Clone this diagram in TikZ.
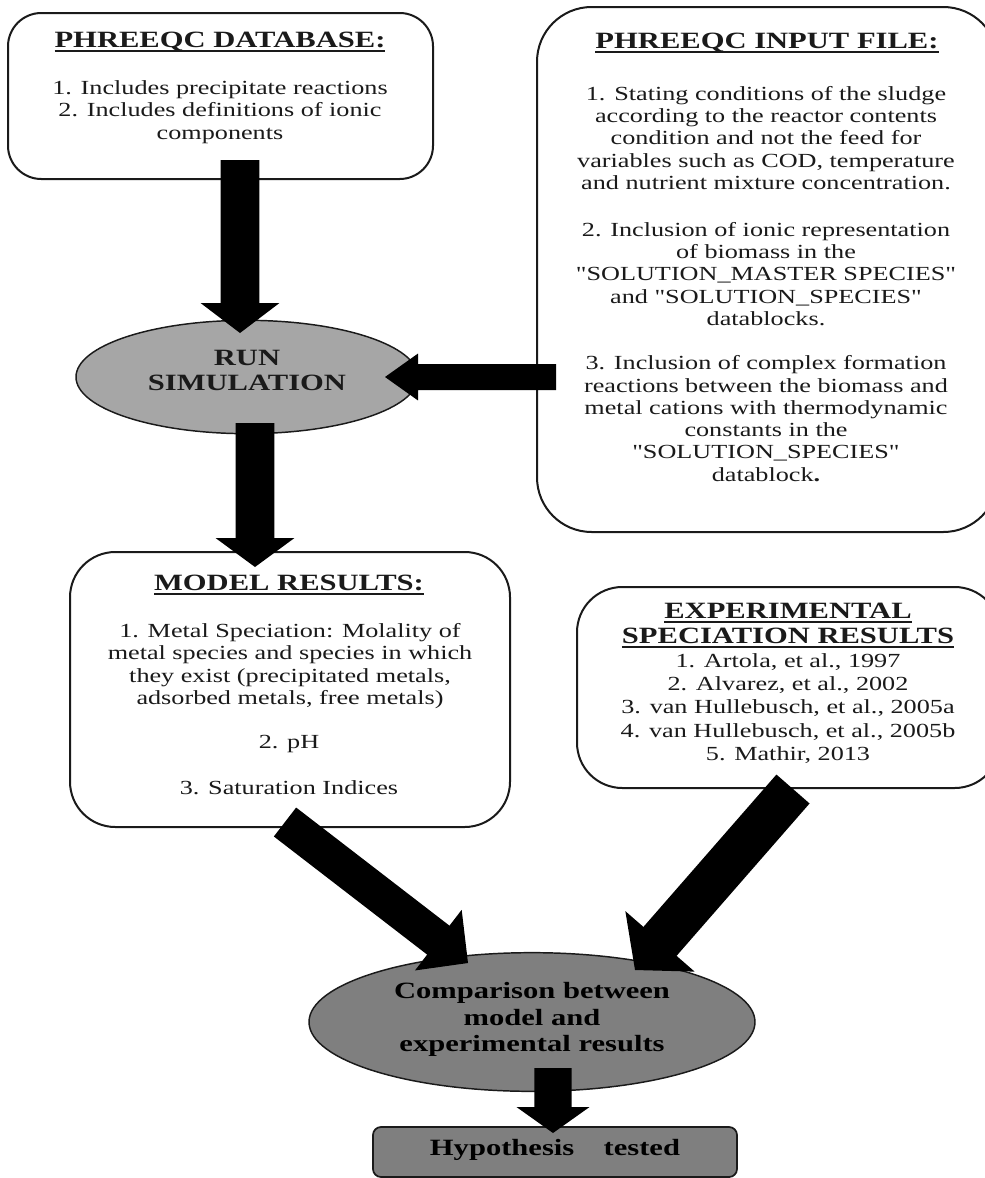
\documentclass[tikz,border=0pt]{standalone}
\usepackage{fontspec}
\setmainfont{Liberation Serif}[FakeStretch=1.31, Ligatures=TeXOff]
\usetikzlibrary{calc,shapes.geometric}
\definecolor{ink}{HTML}{1A1A1A}
\definecolor{lgray}{HTML}{A6A6A6}
\definecolor{dgray}{HTML}{7F7F7F}
\newcommand{\bodyf}{\fontsize{15pt}{16.7pt}\selectfont}
\newcommand{\headf}{\bfseries\fontsize{17.5pt}{18.75pt}\selectfont}
\newcommand{\ulh}[1]{\setbox0\hbox{#1}\rlap{\rule[-3pt]{\wd0}{1.2pt}}\box0}
\newcommand{\qq}{\symbol{34}}
\newcommand{\blockarr}[5]{%
  \coordinate (ba-base) at ($(#2)!#5!(#1)$);
  \fill[black] ($(#1)!#3!90:(#2)$) -- ($(ba-base)!#3!90:(#2)$) -- ($(ba-base)!#4!90:(#2)$) -- (#2) -- ($(ba-base)!#4!-90:(#2)$) -- ($(ba-base)!#3!-90:(#2)$) -- ($(#1)!#3!-90:(#2)$) -- cycle;}
\tikzset{
  box/.style={draw=ink, line width=1.5pt, fill=white, rectangle, inner sep=0pt},
  oval/.style={draw=ink, line width=1.1pt, ellipse, inner sep=0pt},
  head/.style={font=\headf, text=ink, inner sep=0pt, align=center},
  body/.style={font=\bodyf, text=ink, inner sep=0pt, align=center},
}
\begin{document}
\begin{tikzpicture}[x=0.75pt, y=-0.75pt]
\useasboundingbox (0,0) rectangle (985,1178);
\fill[white] (0,0) rectangle (985,1178);

% boxes
\node[box, rounded corners=25pt, minimum width=318.75pt, minimum height=124.5pt] (db) at (220.5,96) {};
\node[box, rounded corners=41pt, minimum width=345.75pt, minimum height=393.75pt] (inp) at (767.5,269.5) {};
\node[box, rounded corners=34pt, minimum width=330pt, minimum height=206.25pt] (mod) at (290,689.5) {};
\node[box, rounded corners=34pt, minimum width=317.25pt, minimum height=150.75pt] (exp) at (788.5,687.5) {};
\node[oval, fill=lgray, minimum width=256.5pt, minimum height=85pt] (run) at (247,377) {};
\node[oval, fill=dgray, minimum width=334.5pt, minimum height=104pt] (cmp) at (532,1022) {};
\node[box, fill=dgray, line width=1.3pt, rounded corners=6pt, minimum width=273pt, minimum height=37.5pt] (hyp) at (555,1152) {};

% texts
\node[head] (dbh) at (220,42) {\ulh{PHREEQC DATABASE:}};
\node[body] (dbt) at (220,112) {1. Includes precipitate reactions\\2. Includes definitions of ionic\\components};

\node[head] (inph) at (767,43) {\ulh{PHREEQC INPUT FILE:}};
\node[body] (inp1) at (766,138) {1. Stating conditions of the sludge\\according to the reactor contents\\condition and not the feed for\\variables such as COD, temperature\\and nutrient mixture concentration.};
\node[body] (inp2) at (766,274) {2. Inclusion of ionic representation\\of biomass in the\\\qq SOLUTION\_MASTER SPECIES\qq\\and \qq SOLUTION\_SPECIES\qq\\datablocks.};
\node[body] (inp3) at (766,418.5) {3. Inclusion of complex formation\\reactions between the biomass and\\metal cations with thermodynamic\\constants in the\\\qq SOLUTION\_SPECIES\qq\\datablock\textbf{.}};

\node[head] (modh) at (289,585) {\ulh{MODEL RESULTS:}};
\node[body] (mod1) at (290,666) {1. Metal Speciation: Molality of\\metal species and species in which\\they exist (precipitated metals,\\adsorbed metals, free metals)};
\node[body] (mod2) at (289,744) {2. pH};
\node[body] (mod3) at (289,788) {3. Saturation Indices};

\node[head] (exph) at (788,625.5) {\ulh{EXPERIMENTAL}\\\ulh{SPECIATION RESULTS}};
\node[body, font=\fontsize{15pt}{17.5pt}\selectfont] (expt) at (788,708.5) {1. Artola, et al., 1997\\2. Alvarez, et al., 2002\\3. van Hullebusch, et al., 2005a\\4. van Hullebusch, et al., 2005b\\5. Mathir, 2013};

\node[head] (runt) at (247,370.5) {RUN\\SIMULATION};
\node[head, font=\bfseries\fontsize{17.5pt}{19.9pt}\selectfont, text=black] (cmpt) at (532,1019.5) {Comparison between\\model and\\experimental results};
\node[head, text=black] (hypt) at (555,1150) {Hypothesis\hspace{22pt}tested};

% arrow end points
\coordinate (a1s) at (240,160);  \coordinate (a1t) at (240,333);
\coordinate (a2s) at (255,423);  \coordinate (a2t) at (255,567);
\coordinate (a3s) at (556,377);  \coordinate (a3t) at (385,377);
\coordinate (a4s) at (285,822);  \coordinate (a4t) at (468,963);
\coordinate (a5s) at (793,789);  \coordinate (a5t) at (635,970);
\coordinate (a6s) at (553,1068); \coordinate (a6t) at (553,1133);

\blockarr{a1s}{a1t}{14.6pt}{29.6pt}{22.5pt}
\blockarr{a2s}{a2t}{14.6pt}{29.6pt}{21.75pt}
\blockarr{a3s}{a3t}{9.75pt}{17.6pt}{24.75pt}
\blockarr{a4s}{a4t}{13.7pt}{28.7pt}{28.1pt}
\blockarr{a5s}{a5t}{16.5pt}{34.5pt}{28.5pt}
\blockarr{a6s}{a6t}{13.9pt}{27.4pt}{19.5pt}
\end{tikzpicture}
\end{document}
